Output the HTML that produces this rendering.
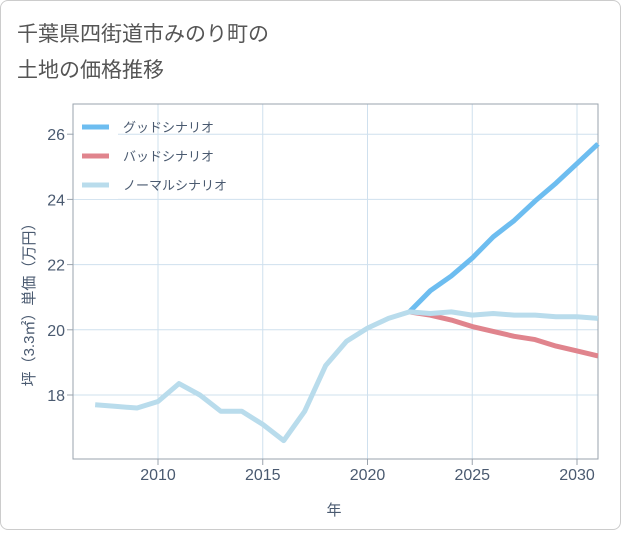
<!DOCTYPE html>
<html><head><meta charset="utf-8"><style>
body{margin:0;background:#fff;}
#card{position:absolute;left:0;top:0;width:619px;height:528px;border:1px solid #ccc;border-radius:8px;background:#fff;}
text{font-family:"Liberation Sans","Noto Sans CJK JP",sans-serif;}
</style></head><body>
<div id="card">
<svg id="chart" width="621" height="530">
<text x="16" y="40" font-size="21" fill="#555">千葉県四街道市みのり町の</text>
<text x="16" y="76" font-size="21" fill="#555">土地の価格推移</text>
<g id="grid"></g>
<rect x="72" y="103" width="525" height="355" fill="none" stroke="#9aa3ad" stroke-width="1"/>
<g id="legend"></g><g id="series"></g><g id="axes"></g>
<text x="333" y="514" font-size="15" fill="#4a5a70" text-anchor="middle">年</text>
<text transform="translate(33,300) rotate(-90)" font-size="15" fill="#4a5a70" text-anchor="middle">坪（3.3㎡）単価（万円）</text>
<g id="legendtext"></g>
</svg></div>
<script>
const years=[2007,2008,2009,2010,2011,2012,2013,2014,2015,2016,2017,2018,2019,2020,2021,2022,2023,2024,2025,2026,2027,2028,2029,2030,2031];
const normalVals=[17.7,17.65,17.6,17.8,18.35,18.0,17.5,17.5,17.1,16.6,17.5,18.9,19.65,20.05,20.35,20.55,20.5,20.55,20.45,20.5,20.45,20.45,20.4,20.4,20.35];
const goodYears=[2022,2023,2024,2025,2026,2027,2028,2029,2030,2031];
const goodVals=[20.55,21.2,21.65,22.2,22.85,23.35,23.95,24.5,25.1,25.7];
const badVals=[20.55,20.45,20.3,20.1,19.95,19.8,19.7,19.5,19.35,19.2];
const xTicks=[2010,2015,2020,2025,2030];
const yTicks=[18,20,22,24,26];
const seriesNames=["グッドシナリオ","バッドシナリオ","ノーマルシナリオ"];
const NS="http://www.w3.org/2000/svg";
const xs=y=>157+(y-2010)*20.95;
const ys=v=>394-(v-18)*32.6;
function mk(tag,attrs,parent){const e=document.createElementNS(NS,tag);for(const k in attrs)e.setAttribute(k,attrs[k]);document.getElementById(parent).appendChild(e);return e;}
xTicks.forEach(t=>{
 const l=mk('line',{x1:xs(t),x2:xs(t),y1:103,y2:458,stroke:'#cfe0ee'},'grid');
 
 
 const tk=mk('line',{x1:xs(t),x2:xs(t),y1:458,y2:464,stroke:'#9aa3ad'},'axes');
 
 
 const tx=mk('text',{x:xs(t),y:479,'font-size':16,fill:'#4a5a70','text-anchor':'middle'},'axes');tx.textContent=t;
 
 
});
yTicks.forEach(t=>{
 const l=mk('line',{x1:72,x2:597,y1:ys(t),y2:ys(t),stroke:'#cfe0ee'},'grid');
 
 
 const tk=mk('line',{x1:66,x2:72,y1:ys(t),y2:ys(t),stroke:'#9aa3ad'},'axes');
 
 
 const tx=mk('text',{x:64,y:ys(t)+6,'font-size':16,fill:'#4a5a70','text-anchor':'end'},'axes');tx.textContent=t;
 
 
});
function line(xv,yv,color,name){
 const p=mk('polyline',{points:xv.map((x,i)=>xs(x)+','+ys(yv[i])).join(' '),fill:'none',stroke:color,'stroke-width':5,'stroke-linejoin':'round'},'series');
 
 
}
line(goodYears,goodVals,'#6dbdf0','good-scenario-line');
line(goodYears,badVals,'#e0848d','bad-scenario-line');
line(years,normalVals,'#b9dcec','normal-scenario-line');
const lc=['#6dbdf0','#e0848d','#b9dcec'];
mk('rect',{x:73,y:110,width:44,height:88,fill:'#fff'},'legend');
seriesNames.forEach((n,i)=>{
 const y=126+i*29;
 const l=mk('line',{x1:81,x2:108,y1:y,y2:y,stroke:lc[i],'stroke-width':5},'legendtext');
 
 
 const t=mk('text',{x:122,y:y+5,'font-size':13,fill:'#4a5a70'},'legendtext');t.textContent=n;
 
 
});
</script>
</body></html>
